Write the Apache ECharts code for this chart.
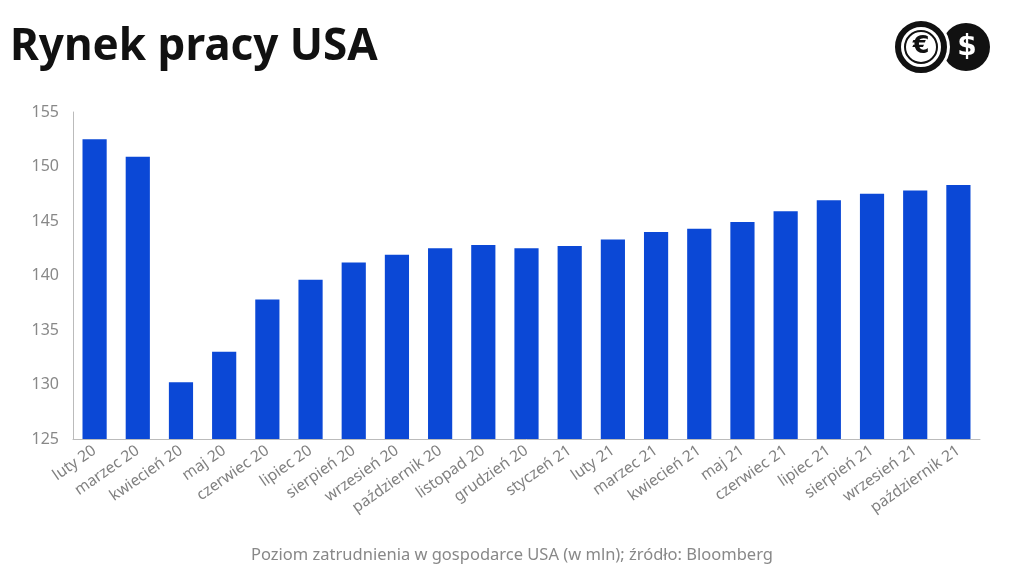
<!DOCTYPE html>
<html><head><meta charset="utf-8">
<script src="https://cdn.jsdelivr.net/npm/echarts@6/dist/echarts.min.js"></script>
<style>html,body{margin:0;padding:0;background:#fff}#c{width:1024px;height:576px}</style>
</head><body><div id="c"></div>
<script>
const categories = ['luty 20','marzec 20','kwiecień 20','maj 20','czerwiec 20','lipiec 20','sierpień 20','wrzesień 20','październik 20','listopad 20','grudzień 20','styczeń 21','luty 21','marzec 21','kwiecień 21','maj 21','czerwiec 21','lipiec 21','sierpień 21','wrzesień 21','październik 21'];
const employment = [152.5,150.9,130.2,133.0,137.8,139.6,141.2,141.9,142.5,142.8,142.5,142.7,143.3,144.0,144.3,144.9,145.9,146.9,147.5,147.8,148.3];
const titleText = 'Rynek pracy USA';
const footerText = 'Poziom zatrudnienia w gospodarce USA (w mln); źródło: Bloomberg';

const chart = echarts.init(document.getElementById('c'));
chart.setOption({
  animation: false,
  backgroundColor: '#fff',
  title: {
    text: titleText, left: 5, top: 20,
    textStyle: {fontFamily: 'Noto Sans', fontWeight: 'bold', fontSize: 44, color: '#111'}
  },
  grid: {left: 73, right: 44, top: 112, bottom: 137},
  xAxis: {
    type: 'category', data: categories,
    axisLine: {lineStyle: {color: '#bbb'}},
    axisTick: {show: false},
    axisLabel: {rotate: 35, interval: 0, color: '#808080', fontFamily: 'Noto Sans', fontSize: 15.5, margin: 10}
  },
  yAxis: {
    type: 'value', min: 125, max: 155, interval: 5,
    axisLine: {show: true, lineStyle: {color: '#bbb'}},
    axisTick: {show: false},
    splitLine: {show: false},
    axisLabel: {color: '#888', fontFamily: 'Noto Sans', fontSize: 16, margin: 14}
  },
  series: [{type: 'bar', data: employment, barWidth: '56%', itemStyle: {color: '#0b48d6'}}],
  graphic: [
    {type: 'text', left: 'center', top: 547, style: {text: footerText, fill: '#888', font: '16.5px "Noto Sans"'}},
    {type: 'circle', shape: {cx: 966, cy: 47, r: 24}, style: {fill: '#111'}},
    {type: 'circle', shape: {cx: 921, cy: 47, r: 29}, style: {fill: '#fff'}},
    {type: 'circle', shape: {cx: 921, cy: 47, r: 23}, style: {fill: '#fff', stroke: '#111', lineWidth: 6}},
    {type: 'circle', shape: {cx: 921, cy: 47, r: 16}, style: {fill: '#fff', stroke: '#111', lineWidth: 2}},
    {type: 'text', x: 921, y: 47, style: {text: '€', fill: '#111', font: 'bold 24px "DejaVu Sans"', align: 'center', verticalAlign: 'middle'}},
    {type: 'text', x: 967, y: 48, style: {text: '$', fill: '#fff', font: 'bold 28px "DejaVu Sans"', align: 'center', verticalAlign: 'middle'}}
  ]
});
</script></body></html>
